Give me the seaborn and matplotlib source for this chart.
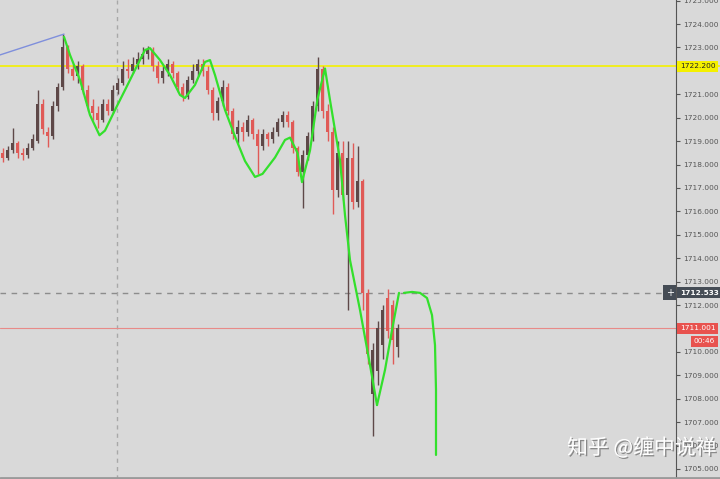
import matplotlib
matplotlib.use("Agg")
import matplotlib.pyplot as plt
import matplotlib.patheffects as pe
import numpy as np
import pandas as pd
import seaborn as sns

# candle data, one bar per entry
opens = [1718.5, 1718.3, 1718.6, 1718.9, 1718.5, 1718.4, 1718.7, 1719.0, 1720.6, 1719.4,
         1719.2, 1720.5, 1721.3, 1723.0, 1722.1, 1721.8, 1722.2, 1721.2, 1720.5, 1720.2,
         1719.9, 1720.6, 1720.3, 1721.2, 1721.5, 1722.1, 1722.0, 1722.3, 1722.5, 1722.7,
         1722.9, 1722.2, 1721.7, 1722.0, 1722.3, 1721.9, 1721.3, 1720.9, 1721.6, 1722.0,
         1722.3, 1722.0, 1721.2, 1720.2, 1720.7, 1721.3, 1720.3, 1719.3, 1719.6, 1719.4,
         1719.9, 1719.3, 1718.8, 1719.3, 1719.1, 1719.4, 1719.8, 1720.1, 1719.8, 1718.7,
         1717.7, 1718.4, 1719.2, 1720.5, 1722.1, 1720.3, 1719.4, 1716.9, 1718.5, 1716.7,
         1718.3, 1716.4, 1717.3, 1712.5, 1708.2, 1709.2, 1710.3, 1712.3, 1712.0, 1710.2]
highs = [1718.7, 1718.8, 1719.55, 1719.0, 1718.7, 1718.9, 1719.3, 1721.2, 1720.8, 1719.6,
         1720.7, 1721.5, 1723.57, 1723.1, 1722.3, 1722.4, 1722.3, 1721.4, 1720.8, 1720.5,
         1720.8, 1720.8, 1721.4, 1721.7, 1722.4, 1722.5, 1722.6, 1722.8, 1723.0, 1723.05,
         1723.0, 1722.4, 1722.2, 1722.5, 1722.4, 1722.0, 1721.5, 1721.8, 1722.3, 1722.5,
         1722.5, 1722.2, 1721.3, 1720.9, 1721.6, 1721.5, 1720.4, 1719.9, 1719.8, 1720.1,
         1720.0, 1719.5, 1719.5, 1719.4, 1719.6, 1720.0, 1720.3, 1720.3, 1719.9, 1718.8,
         1718.6, 1719.4, 1720.7, 1722.6, 1722.2, 1720.6, 1719.6, 1719.0, 1719.0, 1719.0,
         1718.9, 1718.8, 1717.4, 1712.7, 1710.4, 1711.3, 1712.0, 1712.7, 1712.2, 1711.2]
lows = [1718.1, 1718.2, 1718.5, 1718.3, 1718.2, 1718.3, 1718.6, 1718.9, 1719.3, 1718.75,
        1719.1, 1720.3, 1721.2, 1721.9, 1721.6, 1721.5, 1721.0, 1720.3, 1719.9, 1719.55,
        1719.8, 1720.1, 1720.2, 1721.0, 1721.4, 1721.7, 1721.9, 1722.1, 1722.3, 1722.5,
        1722.0, 1721.5, 1721.5, 1721.8, 1721.7, 1721.1, 1720.7, 1720.8, 1721.5, 1721.8,
        1721.8, 1721.0, 1719.9, 1719.9, 1720.5, 1720.1, 1719.1, 1718.9, 1719.0, 1719.2,
        1719.1, 1717.6, 1718.6, 1718.8, 1718.9, 1719.2, 1719.6, 1719.6, 1718.5, 1717.5,
        1716.15, 1718.2, 1719.0, 1720.3, 1720.0, 1719.0, 1715.9, 1716.6, 1716.5, 1711.8,
        1716.1, 1716.2, 1711.8, 1709.5, 1706.4, 1708.6, 1709.7, 1710.6, 1709.5, 1709.8]
closes = [1718.3, 1718.6, 1718.9, 1718.5, 1718.4, 1718.7, 1719.1, 1720.6, 1719.5, 1719.2,
          1720.5, 1721.3, 1723.0, 1722.1, 1721.8, 1722.2, 1721.2, 1720.5, 1720.2, 1719.9,
          1720.6, 1720.3, 1721.2, 1721.5, 1722.1, 1722.0, 1722.3, 1722.5, 1722.7, 1722.9,
          1722.2, 1721.7, 1722.0, 1722.3, 1721.9, 1721.3, 1720.9, 1721.6, 1722.0, 1722.3,
          1722.0, 1721.2, 1720.2, 1720.7, 1721.3, 1720.3, 1719.3, 1719.6, 1719.4, 1719.9,
          1719.3, 1718.8, 1719.3, 1719.1, 1719.4, 1719.8, 1720.1, 1719.8, 1718.7, 1717.7,
          1718.4, 1719.2, 1720.5, 1722.1, 1720.3, 1719.4, 1716.9, 1718.5, 1716.7, 1718.3,
          1716.4, 1717.3, 1712.5, 1709.9, 1710.1, 1711.0, 1711.8, 1710.9, 1710.5, 1711.0]

# green projection curve (bar index, price, segment)
curve_x = [12.3, 13.5, 15.5, 17.5, 19.4, 20.5, 22.5, 24.5, 26.5, 28.5, 29.5, 31.5, 33.5,
           35.5, 36.5, 38.5, 40.5, 41.5, 42.5, 44.5, 46.5, 48.5, 50.5, 52.0, 54.5, 56.5,
           57.5, 59.0, 59.9, 61.5, 63.0, 64.5, 65.5, 67.5, 68.5, 69.5, 71.5, 73.5, 74.9,
           74.9, 76.5, 77.9, 79.3,
           80.3, 81.9, 83.5, 84.9, 85.9, 86.5, 86.7, 86.7]
curve_y = [1723.45, 1722.68, 1721.61, 1720.11, 1719.25, 1719.45, 1720.33, 1721.18, 1722.04,
           1722.89, 1722.97, 1722.46, 1721.82, 1720.97, 1720.84, 1721.40, 1722.38, 1722.46,
           1721.82, 1720.33, 1719.20, 1718.15, 1717.47, 1717.60, 1718.30, 1719.05, 1719.15,
           1718.50, 1717.25, 1718.60, 1720.80, 1722.10, 1720.75, 1718.19, 1715.84, 1713.92,
           1711.79, 1709.44, 1707.73,
           1707.73, 1709.23, 1710.93, 1712.52,
           1712.52, 1712.56, 1712.52, 1712.30, 1711.57, 1710.29, 1708.37, 1705.60]
curve_seg = [0] * 39 + [1] * 4 + [2] * 8

trend_x = [-0.5, 12.3]
trend_y = [1722.68, 1723.57]

yellow_level = 1722.2
cross_level = 1712.533
last_price = 1711.001
countdown = "00:46"
y_ticks = list(range(1705, 1726))
hidden_ticks = [1711, 1722]  # covered by the price boxes

bg = "#d9d9d9"
up_color = "#5e4848"
down_color = "#e05a57"

sns.set_style("white")
plt.rcParams["font.family"] = ["DejaVu Sans"]

fig = plt.figure(figsize=(7.2, 4.79), dpi=100)
fig.patch.set_facecolor(bg)
ax = fig.add_axes([0, 0, 676 / 720, 1])
ax.set_facecolor(bg)

ax.set_xlim(-0.5, 134.7)
ax.set_ylim(1704.573, 1725.025)

# guides
ax.axvline(22.9, color="#a8a8a8", lw=1, ls=(0, (3, 3)), zorder=1)
ax.axhline(cross_level, color="#8c8c8c", lw=1, ls=(0, (4, 4)), zorder=1)
ax.axhline(last_price, color="#e88a88", lw=0.8, zorder=1)
ax.axhline(yellow_level, xmax=720 / 676, color="#f4f000", lw=1.2, zorder=1, clip_on=False)

# candles
idx = np.arange(len(opens))
o = np.array(opens)
c = np.array(closes)
colors = [up_color if cc >= oo else down_color for oo, cc in zip(o, c)]
ax.vlines(idx, lows, highs, colors=colors, lw=1, zorder=2)
body = np.where(np.abs(c - o) < 0.05, 0.05, c - o)
ax.bar(idx, body, bottom=o, width=0.65, color=colors, edgecolor="none", linewidth=0, zorder=3)

# lines
curve = pd.DataFrame({"x": curve_x, "y": curve_y, "seg": curve_seg})
sns.lineplot(data=curve, x="x", y="y", units="seg", estimator=None, sort=False,
             color="#33e02c", lw=1.6, ax=ax, zorder=4)
sns.lineplot(x=trend_x, y=trend_y, color="#7f8fdc", lw=1, ax=ax, zorder=4)

ax.set_xlabel("")
ax.set_ylabel("")
ax.set_xticks([])
ax.yaxis.tick_right()
ax.set_yticks(y_ticks)
ax.set_yticklabels(["" if v in hidden_ticks else f"{v:.3f}" for v in y_ticks])
ax.tick_params(axis="y", direction="out", length=3, width=0.8, color="#555555",
               labelsize=5.3, labelcolor="#555555", pad=2, right=True)
for s in ["top", "left", "bottom"]:
    ax.spines[s].set_visible(False)
ax.spines["right"].set_color("#555555")
ax.spines["right"].set_linewidth(0.8)

tr = ax.get_yaxis_transform()
ax.text(1.006, yellow_level, "1722.200", transform=tr, fontsize=5.3, color="#222222",
        va="center", ha="left", bbox=dict(boxstyle="square,pad=0.35", fc="#f4f000", ec="none"),
        zorder=6)
ax.text(1.006, cross_level, "1712.533", transform=tr, fontsize=5.3, color="white",
        fontweight="bold", va="center", ha="left",
        bbox=dict(boxstyle="square,pad=0.35", fc="#454c55", ec="none"), zorder=6)
ax.text(0.991, cross_level, "+", transform=tr, fontsize=7, color="white", va="center",
        ha="center", bbox=dict(boxstyle="square,pad=0.25", fc="#454c55", ec="none"), zorder=6)
ax.text(1.006, last_price, "1711.001", transform=tr, fontsize=5.3, color="white",
        va="center", ha="left", bbox=dict(boxstyle="square,pad=0.35", fc="#e8524e", ec="none"),
        zorder=6)
ax.text(1.058, last_price - 0.55, countdown, transform=tr, fontsize=5.3, color="white",
        va="center", ha="right", bbox=dict(boxstyle="square,pad=0.35", fc="#e8524e", ec="none"),
        zorder=6)

# bottom edge strip
fig.add_artist(plt.Line2D([0, 1], [1.5 / 479, 1.5 / 479], color="#9a9a9a", lw=2))

fig.text(567 / 720, 1 - 448 / 479, "知乎 @缠中说禅", fontsize=15, color="white",
         family=["Noto Sans CJK SC", "DejaVu Sans"], va="center", ha="left",
         path_effects=[pe.withSimplePatchShadow(offset=(1, -1), shadow_rgbFace="#777777", alpha=0.8)])

fig.savefig("out.png", dpi=100, facecolor=bg)
